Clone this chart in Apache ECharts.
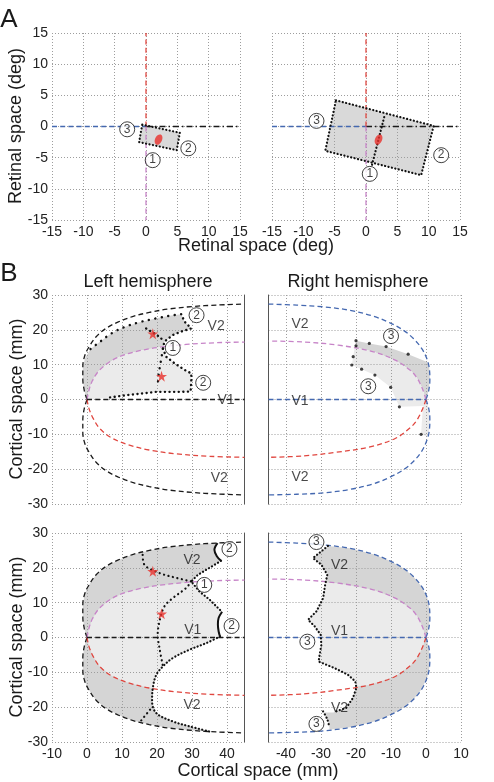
<!DOCTYPE html>
<html><head><meta charset="utf-8">
<script src="https://cdn.jsdelivr.net/npm/echarts@6/dist/echarts.min.js"></script>
<style>html,body{margin:0;padding:0;background:#fff}#c{width:494px;height:782px}</style>
</head><body><div id="c"></div><script>
// ---------- Panel A data (retinal space, deg) ----------
var retTicks = [-15, -10, -5, 0, 5, 10, 15];
var meridianBlue = [[-15, 0], [0, 0]];
var meridianBlack = [[0, 0], [15, 0]];
var meridianRed = [[0, 0], [0, 15]];
var meridianPink = [[0, 0], [0, -15]];
var stimLeftRect = [[-0.6, 0.3], [5.4, -1.0], [4.9, -3.8], [-1.1, -2.5], [-0.6, 0.3]];
var stimRightRect = [[-4.8, 4.2], [10.8, 0.1], [8.8, -7.8], [-6.5, -3.9], [-4.8, 4.2]];
var stimRightSplit = [[2.9, 1.5], [0.9, -6.4]];
var fixationPoint = [[2, -2.1]];
var aLeftCircles = [[-3, -0.45, '3'], [6.75, -3.5, '2'], [1.07, -5.4, '1']];
var aRightCircles = [[-7.9, 0.9, '3'], [12, -4.6, '2'], [0.6, -7.6, '1']];

// ---------- Panel B data (cortical space, mm) ----------
var corTicksY = [-30, -20, -10, 0, 10, 20, 30];
var leftOuterUp = [[0,0],[-0.8,2.7],[-1.2,6],[-1.2,9.4],[-0.6,12.7],[0.7,15.3],[2.6,18],[5.4,20.4],[8.8,22.2],[13,23.8],[17.8,25],[23.5,26],[30.2,26.7],[36.9,27.1],[45,27.4]];
var leftOuterDn = [[0,0],[-0.8,-2.7],[-1.2,-6],[-1.2,-9.4],[-0.6,-12.7],[0.7,-15.3],[2.6,-18],[5.4,-20.4],[8.8,-22.2],[13,-23.8],[17.8,-25],[23.5,-26],[30.2,-26.7],[36.9,-27.1],[45,-27.4]];
var leftVMUp = [[0,0],[0.6,2.8],[1.5,5.3],[3.2,8],[6,10.5],[10,12.6],[15,14],[20.7,15],[28.3,15.8],[36.9,16.3],[45,16.5]];
var leftVMDn = [[0,0],[0.6,-2.7],[1.8,-5.5],[3.7,-8.4],[7,-11],[11.8,-13],[17.8,-14.5],[25.4,-15.6],[35,-16.3],[45,-16.6]];
var leftHM = [[0,0],[45,0]];

var rightOuterUp = [[0,0],[0.8,2.7],[1.1,5.6],[1,8.4],[0.4,11.3],[-1.2,14.6],[-3.6,17.5],[-6.5,19.9],[-10.3,22],[-15,23.9],[-21.7,25.6],[-29.3,26.6],[-36.9,27.1],[-45,27.4]];
var rightOuterDn = [[0,0],[0.8,-2.7],[1.1,-5.6],[1,-8.4],[0.4,-11.3],[-1.2,-14.8],[-3.6,-17.8],[-6.5,-20.2],[-10.3,-22.3],[-15,-24.2],[-21.7,-25.8],[-29.3,-26.8],[-36.9,-27.2],[-45,-27.4]];
var rightVMUp = [[0,0],[-0.8,2.5],[-1.7,4.6],[-2.8,6.5],[-4.5,8.4],[-8.8,11.3],[-15,13.7],[-25,15.6],[-35,16.5],[-45,16.8]];
var rightVMDn = [[0,0],[-0.8,-2.3],[-1.7,-4.3],[-2.8,-6.2],[-4.5,-8.1],[-8.8,-11.2],[-16,-13.6],[-26,-15.2],[-35,-16.2],[-45,-16.6]];
var rightHM = [[-45,0],[0,0]];

// top-left (left hemisphere, small stimulus)
var tlDark = [[0,0],[-0.8,2.7],[-1.2,6],[-1.2,9.4],[-0.5,12],[1,14.5],[3.6,16.5],[7,19],[10.7,20.8],[15,22.2],[19.8,23.3],[24,24.1],[26.9,24.5],[27.9,22.3],[29.8,20.4],[26.9,19.5],[24.5,18.5],[22.1,16.6],[21.7,15],[20.7,15],[15,14],[10,12.6],[6,10.5],[3.2,8],[1.5,5.3],[0.6,2.8]];
var tlLight = [[0,0],[0.6,2.8],[1.5,5.3],[3.2,8],[6,10.5],[10,12.6],[15,14],[20.7,15],[21.7,14.6],[22.6,12.3],[25,10.4],[27.9,8.5],[29.8,7.5],[29.8,5.1],[29.6,2.3],[26.9,2.2],[23,2.2],[19.8,2.2],[16.4,1.8],[11.7,1.3],[5.9,0.5],[2,0.1]];
var tlEdge = [[1,14.5],[3.6,16.5],[7,19],[10.7,20.8],[15,22.2],[19.8,23.3],[24,24.1],[26.9,24.5]];
var tlBoundary = [[26.9,24.5],[27.9,22.3],[29.8,20.4],[26.9,19.5],[24.5,18.5],[22.1,16.6],[21.7,14.6],[22.6,12.3],[25,10.4],[27.9,8.5],[29.8,7.5],[29.8,5.1],[29.6,2.3],[26.9,2.2],[23,2.2],[19.8,2.2],[16.4,1.8],[11.7,1.3],[5.9,0.5]];
var tlInner1 = [[16.9,20.4],[20.7,18],[22.1,16.6]];
var tlInner2 = [[21.7,14.6],[21.1,11],[20.5,7.5],[20.2,4.2]];
var tlCircles = [[31.3,24.2,'2'],[24.5,14.8,'1'],[33.2,4.8,'2']];
var tlTexts = [[36.9,21,'V2'],[39.7,-0.2,'V1'],[37.8,-22.5,'V2']];
var tlStars = [[18.8,18.9],[21.3,6.7]];

// top-right (right hemisphere, small stimulus)
var trDark = [[-20,16.9],[-16.2,16.1],[-11.4,15.2],[-5.1,13],[0.7,10.6],[1,8.4],[1.1,5.6],[0.8,2.7],[0,0],[-0.8,2.5],[-1.7,4.6],[-2.8,6.5],[-4.5,8.4],[-8.8,11.3],[-15,13.7],[-20.4,15]];
var trLight = [[-20.4,15],[-15,13.7],[-8.8,11.3],[-4.5,8.4],[-2.8,6.5],[-1.7,4.6],[-0.8,2.5],[0,0],[0.8,-2.7],[1.1,-5.6],[1,-8.4],[0.4,-10.7],[-1.4,-10],[-1.1,-5],[-0.8,-1.9],[-7.6,-2.1],[-10.1,3.5],[-14.6,7],[-18.4,8.7],[-21.2,9.9],[-20.8,12.3]];
var trDots = [[-20,16.9],[-16.2,16.1],[-11.4,15.2],[-5.1,13],[-20,15.4],[-20.8,12.3],[-21.2,9.9],[-18.4,8.7],[-14.6,7],[-10.1,3.5],[-7.6,-2.1],[-1.4,-10]];
var trCircles = [[-10,18.2,'3'],[-16.5,3.8,'3']];
var trTexts = [[-36,21.6,'V2'],[-36,-0.4,'V1'],[-36,-22.2,'V2']];

// bottom-left (left hemisphere, large stimulus)
var blOutline = [[0,0],[-0.8,2.7],[-1.2,6],[-1.2,9.4],[-0.6,12.7],[0.7,15.3],[2.6,18],[5.4,20.4],[8.8,22.2],[13,23.8],[17.8,25],[23.5,26],[30.2,26.7],[37.3,27.1],[36.4,25.2],[37.1,23.3],[38.3,22],[35,20],[31.7,18],[29.8,16.1],[32.1,13.2],[35,10.9],[37.9,8],[38.6,7.4],[37.6,5.6],[37.4,3.7],[37.6,1.8],[38,0.3],[34.1,-1.6],[29.3,-3.5],[24.5,-5.9],[21.7,-8.3],[19.8,-10.7],[18.8,-14.5],[18.6,-18.3],[19.8,-21.7],[24.5,-24.1],[29.3,-25.5],[35,-27],[30.2,-26.7],[23.5,-26],[17.8,-25],[13,-23.8],[8.8,-22.2],[5.4,-20.4],[2.6,-18],[0.7,-15.3],[-0.6,-12.7],[-1.2,-9.4],[-1.2,-6],[-0.8,-2.7]];
var blLight = [[0,0],[0.6,2.8],[1.5,5.3],[3.2,8],[6,10.5],[10,12.6],[15,14],[20.7,15],[28.3,15.8],[29.8,16.1],[32.1,13.2],[35,10.9],[37.9,8],[38.6,7.4],[37.6,5.6],[37.4,3.7],[37.6,1.8],[38,0.3],[34.1,-1.6],[29.3,-3.5],[24.5,-5.9],[21.7,-8.3],[19.8,-10.7],[18.8,-14.5],[17.8,-14.5],[11.8,-13],[7,-11],[3.7,-8.4],[1.8,-5.5],[0.6,-2.7]];
var blArcTop = [[37.3,27.1],[36.4,25.2],[37.1,23.3],[38.3,22]];
var blArcMid = [[38.6,7.4],[37.6,5.6],[37.4,3.7],[37.6,1.8],[38,0.3]];
var blDotRight = [[38.3,22],[35,20],[31.7,18],[29.8,16.1],[32.1,13.2],[35,10.9],[37.9,8],[38.6,7.4]];
var blDotCurve = [[38,0.3],[34.1,-1.6],[29.3,-3.5],[24.5,-5.9],[21.7,-8.3],[19.8,-10.7],[18.8,-14.5],[18.6,-18.3],[19.8,-21.7],[24.5,-24.1],[29.3,-25.5],[35,-27]];
var blDotInnerA = [[15.9,23.7],[16.4,20.9],[20.7,18.5],[25.6,17.1],[29.8,16.1]];
var blDotInnerB = [[29.8,16.1],[28.3,14.2],[24.5,11.3],[22.1,8.9],[20.7,4.6],[20.2,0.8],[20.7,-3],[21.7,-8.3]];
var blDotLow = [[15.5,-23.8],[18.6,-20]];
var blCircles = [[40.7,25.4,'2'],[33.5,15.1,'1'],[41.3,3.3,'2']];
var blTexts = [[30,22.1,'V2'],[30.2,2,'V1'],[30,-19.3,'V2']];
var blStars = [[18.8,19],[21.3,6.8]];

// bottom-right (right hemisphere, large stimulus)
var brOutline = [[-28,26.3],[-21.7,25.6],[-15,23.9],[-10.3,22],[-6.5,19.9],[-3.6,17.5],[-1.2,14.6],[0.4,11.3],[1,8.4],[1.1,5.6],[0.8,2.7],[0,0],[0.8,-2.7],[1.1,-5.6],[1,-8.4],[0.4,-11.3],[-1.2,-14.8],[-3.6,-17.8],[-6.5,-20.2],[-10.3,-22.3],[-15,-24.2],[-21.7,-25.8],[-27.6,-26.5],[-27.6,-25.8],[-28.2,-23.5],[-29.4,-21.5],[-26.5,-21.5],[-22.8,-20.2],[-20.9,-17.4],[-19.9,-14.5],[-20.2,-12.6],[-22.3,-10.7],[-26.1,-8.8],[-30.7,-6.9],[-29.9,-2.1],[-30.1,0.8],[-31.8,3.2],[-33.7,5.1],[-31.3,7.5],[-29.4,11.3],[-28.8,15.2],[-28.2,18],[-29.9,20.9],[-32.3,22.8]];
var brLight = [[-28.8,15.8],[-25,15.6],[-15,13.7],[-8.8,11.3],[-4.5,8.4],[-2.8,6.5],[-1.7,4.6],[-0.8,2.5],[0,0],[-0.8,-2.3],[-1.7,-4.3],[-2.8,-6.2],[-4.5,-8.1],[-8.8,-11.2],[-16,-13.6],[-19.9,-14.1],[-20.2,-12.6],[-22.3,-10.7],[-26.1,-8.8],[-30.7,-6.9],[-29.9,-2.1],[-30.1,0.8],[-31.8,3.2],[-33.7,5.1],[-31.3,7.5],[-29.4,11.3],[-28.8,15.2]];
var brDotEdge = [[-28,26.3],[-32.3,22.8],[-29.9,20.9],[-28.2,18],[-28.8,15.2],[-29.4,11.3],[-31.3,7.5],[-33.7,5.1],[-31.8,3.2],[-30.1,0.8],[-29.9,-2.1],[-30.7,-6.9],[-26.1,-8.8],[-22.3,-10.7],[-20.2,-12.6],[-19.9,-14.5],[-20.9,-17.4],[-22.8,-20.2],[-26.5,-21.5]];
var brDotArc = [[-29.4,-21.2],[-28.2,-23.5],[-27.6,-25.8]];
var brCircles = [[-31.3,27.4,'3'],[-33.9,-1.2,'3'],[-31.3,-24.8,'3']];
var brTexts = [[-24.7,20.7,'V2'],[-24.7,1.9,'V1'],[-24.7,-20.2,'V2']];

// ---------- styling ----------
var FONT = 'Liberation Sans, Arial, Helvetica, sans-serif';
var C = {black:'#1a1a1a', blue:'#4468b0', red:'#e0463f', pink:'#c784c8', dark:'#d5d5d5', light:'#ebebeb', stim:'#d9d9d9', mark:'#e8302a'};
var DASH = [5, 3.2];
var DENSE = [0.1, 3.4];
var SPARSE = [0.1, 6.5];
var STAR = 'path://M50,0 L61,35 L98,35 L68,57 L79,91 L50,70 L21,91 L32,57 L2,35 L39,35 Z';

function lineS(data, i, color, type, width, smooth, z) {
  return {type:'line', xAxisIndex:i, yAxisIndex:i, data:data, symbol:'none', silent:true,
    smooth: smooth ? 0.35 : false, z: z || 3, animation:false,
    lineStyle:{color:color, type:type, width:width, cap:(type===DENSE||type===SPARSE||Array.isArray(type)&&type[0]<0.5)?'round':'butt'}};
}
function polyS(pts, i, fill) {
  return {type:'custom', xAxisIndex:i, yAxisIndex:i, z:1, silent:true, animation:false,
    data:[pts[0]],
    renderItem:function(params, api){
      return {type:'polygon', shape:{points:pts.map(function(p){return api.coord(p);})}, style:{fill:fill}};
    }};
}
function circS(data, i) {
  return {type:'scatter', xAxisIndex:i, yAxisIndex:i, data:data, symbol:'circle', symbolSize:15, z:6, silent:true, animation:false,
    itemStyle:{color:'#fff', borderColor:'#111', borderWidth:1},
    label:{show:true, position:'inside', formatter:function(p){return p.data[2];}, color:'#111', fontSize:12, fontFamily:FONT}};
}
function textS(data, i) {
  return {type:'scatter', xAxisIndex:i, yAxisIndex:i, data:data, symbol:'circle', symbolSize:1, z:6, silent:true, animation:false,
    itemStyle:{color:'rgba(0,0,0,0)'},
    label:{show:true, position:'inside', formatter:function(p){return p.data[2];}, color:'#1a1a1a', fontSize:14, fontFamily:FONT}};
}
function starS(data, i) {
  return {type:'scatter', xAxisIndex:i, yAxisIndex:i, data:data, symbol:STAR, symbolSize:11, z:6, silent:true, animation:false,
    itemStyle:{color:C.mark}};
}
function dotS(data, i) {
  return {type:'scatter', xAxisIndex:i, yAxisIndex:i, data:data, symbol:'circle', symbolSize:3.2, z:5, silent:true, animation:false,
    itemStyle:{color:'#111'}};
}

var gridLine = {show:true, lineStyle:{color:'#9d9d9d', type:[1,2], width:1}};
function xAx(i, min, max, showLabel, extra) {
  var a = {type:'value', gridIndex:i, min:min, max:max, z:2,
    axisLine:{show:false, onZero:false}, axisTick:{show:false}, splitLine:gridLine,
    axisLabel:{show:showLabel, color:'#222', fontSize:14, fontFamily:FONT, margin:5}};
  for (var k in extra) a[k] = extra[k];
  return a;
}
function yAx(i, min, max, showLabel, extra) {
  var a = {type:'value', gridIndex:i, min:min, max:max, z:2,
    axisLine:{show:false, onZero:false}, axisTick:{show:false}, splitLine:gridLine,
    axisLabel:{show:showLabel, color:'#222', fontSize:14, fontFamily:FONT, margin:4}};
  for (var k in extra) a[k] = extra[k];
  return a;
}
var solidEdge = {show:true, onZero:false, lineStyle:{color:'#555', width:1}};

var grids = [
  {left:52, top:33, width:188, height:187},
  {left:272, top:33, width:188, height:187},
  {left:52, top:295, width:192.5, height:209},
  {left:268.5, top:295, width:192.5, height:209},
  {left:52, top:533, width:192.5, height:209},
  {left:268.5, top:533, width:192.5, height:209}
];
var retMin = retTicks[0], retMax = retTicks[retTicks.length-1];
var corMin = corTicksY[0], corMax = corTicksY[corTicksY.length-1];

var xAxes = [
  xAx(0, retMin, retMax, true, {interval:5}),
  xAx(1, retMin, retMax, true, {interval:5}),
  xAx(2, -10, 45, false, {minInterval:10, maxInterval:10}),
  xAx(3, -45, 10, false, {minInterval:10, maxInterval:10}),
  xAx(4, -10, 45, true, {minInterval:10, maxInterval:10, axisLabel:{show:true, color:'#222', fontSize:14, fontFamily:FONT, margin:5, showMaxLabel:false}}),
  xAx(5, -45, 10, true, {minInterval:10, maxInterval:10, axisLabel:{show:true, color:'#222', fontSize:14, fontFamily:FONT, margin:5, showMinLabel:false}})
];
var yAxes = [
  yAx(0, retMin, retMax, true, {interval:5}),
  yAx(1, retMin, retMax, false, {interval:5}),
  yAx(2, corMin, corMax, true, {interval:10}),
  yAx(3, corMin, corMax, false, {interval:10, position:'left', axisLine:solidEdge}),
  yAx(4, corMin, corMax, true, {interval:10}),
  yAx(5, corMin, corMax, false, {interval:10, position:'left', axisLine:solidEdge}),
  {type:'value', gridIndex:2, min:corMin, max:corMax, position:'right', z:2, axisLine:solidEdge, axisTick:{show:false}, axisLabel:{show:false}, splitLine:{show:false}},
  {type:'value', gridIndex:4, min:corMin, max:corMax, position:'right', z:2, axisLine:solidEdge, axisTick:{show:false}, axisLabel:{show:false}, splitLine:{show:false}}
];

var series = [];
// Panel A
[0,1].forEach(function(i){
  series.push(lineS(meridianBlue, i, C.blue, DASH, 1.3));
  series.push(lineS(meridianBlack, i, C.black, [6,3,1.5,3], 1.3));
  series.push(lineS(meridianRed, i, C.red, DASH, 1.3));
  series.push(lineS(meridianPink, i, C.pink, DASH, 1.3));
});
series.push(polyS(stimLeftRect, 0, C.stim));
series.push(lineS(stimLeftRect, 0, '#111', DENSE, 2.2, false, 4));
series.push(polyS(stimRightRect, 1, C.stim));
series.push(lineS(stimRightRect, 1, '#111', DENSE, 2.2, false, 4));
series.push(lineS(stimRightSplit, 1, '#111', DENSE, 2.2, false, 4));
[0,1].forEach(function(i){
  series.push({type:'scatter', xAxisIndex:i, yAxisIndex:i, data:fixationPoint, symbol:'circle', symbolSize:[7,11], symbolRotate:-25, z:6, silent:true, animation:false, itemStyle:{color:C.mark}});
});
series.push(circS(aLeftCircles, 0));
series.push(circS(aRightCircles, 1));

// Panel B fills
series.push(polyS(tlDark, 2, C.dark));
series.push(polyS(tlLight, 2, C.light));
series.push(polyS(trDark, 3, C.dark));
series.push(polyS(trLight, 3, C.light));
series.push(polyS(blOutline, 4, C.dark));
series.push(polyS(blLight, 4, C.light));
series.push(polyS(brOutline, 5, C.dark));
series.push(polyS(brLight, 5, C.light));

// Panel B map lines
[2,4].forEach(function(i){
  series.push(lineS(leftOuterUp, i, C.black, DASH, 1.3, true));
  series.push(lineS(leftOuterDn, i, C.black, DASH, 1.3, true));
  series.push(lineS(leftVMUp, i, C.pink, DASH, 1.3, true));
  series.push(lineS(leftVMDn, i, C.red, DASH, 1.3, true));
  series.push(lineS(leftHM, i, C.black, DASH, 1.3));
});
[3,5].forEach(function(i){
  series.push(lineS(rightOuterUp, i, C.blue, DASH, 1.3, true));
  series.push(lineS(rightOuterDn, i, C.blue, DASH, 1.3, true));
  series.push(lineS(rightVMUp, i, C.pink, DASH, 1.3, true));
  series.push(lineS(rightVMDn, i, C.red, DASH, 1.3, true));
  series.push(lineS(rightHM, i, C.blue, DASH, 1.3));
});

// top-left markings
series.push(lineS(tlEdge, 2, '#111', SPARSE, 2.4, true, 4));
series.push(lineS(tlBoundary, 2, '#111', [0.1,4.5], 2.4, false, 4));
series.push(lineS(tlInner1, 2, '#111', [0.1,4.5], 2.4, false, 4));
series.push(lineS(tlInner2, 2, '#111', SPARSE, 2.4, false, 4));
series.push(circS(tlCircles, 2));
series.push(textS(tlTexts, 2));
series.push(starS(tlStars, 2));
// top-right markings
series.push(dotS(trDots, 3));
series.push(circS(trCircles, 3));
series.push(textS(trTexts, 3));
// bottom-left markings
series.push(lineS(blArcTop, 4, '#111', 'solid', 2, true, 4));
series.push(lineS(blArcMid, 4, '#111', 'solid', 2, true, 4));
series.push(lineS(blDotRight, 4, '#111', DENSE, 2.2, false, 4));
series.push(lineS(blDotCurve, 4, '#111', DENSE, 2.2, true, 4));
series.push(lineS(blDotInnerA, 4, '#111', [0.1,4.5], 2.2, true, 4));
series.push(lineS(blDotInnerB, 4, '#111', [0.1,4.5], 2.2, true, 4));
series.push(lineS(blDotLow, 4, '#111', [0.1,4.5], 2.2, false, 4));
series.push(circS(blCircles, 4));
series.push(textS(blTexts, 4));
series.push(starS(blStars, 4));
// bottom-right markings
series.push(lineS(brDotEdge, 5, '#111', DENSE, 2.2, false, 4));
series.push(lineS(brDotArc, 5, '#111', DENSE, 2.2, true, 4));
series.push(circS(brCircles, 5));
series.push(textS(brTexts, 5));

function txt(text, x, y, size, rot) {
  return {type:'text', x:x, y:y, rotation:rot||0, z:10, silent:true,
    style:{text:text, fill:'#1a1a1a', font:size+'px '+FONT, textAlign:'center', textVerticalAlign:'middle'}};
}
var graphics = [
  txt('A', 9, 20, 26),
  txt('B', 9, 274, 26),
  txt('Retinal space (deg)', 256, 246, 18),
  txt('Retinal space (deg)', 16, 126, 18, Math.PI/2),
  txt('Left hemisphere', 148, 282, 18),
  txt('Right hemisphere', 358, 282, 18),
  txt('Cortical space (mm)', 17, 399, 18, Math.PI/2),
  txt('Cortical space (mm)', 17, 637, 18, Math.PI/2),
  txt('Cortical space (mm)', 258, 771, 18)
];

var chart = echarts.init(document.getElementById('c'), null, {renderer:'canvas'});
chart.setOption({
  animation:false,
  backgroundColor:'#fff',
  grid:grids, xAxis:xAxes, yAxis:yAxes, series:series,
  graphic:graphics
});
</script></body></html>
